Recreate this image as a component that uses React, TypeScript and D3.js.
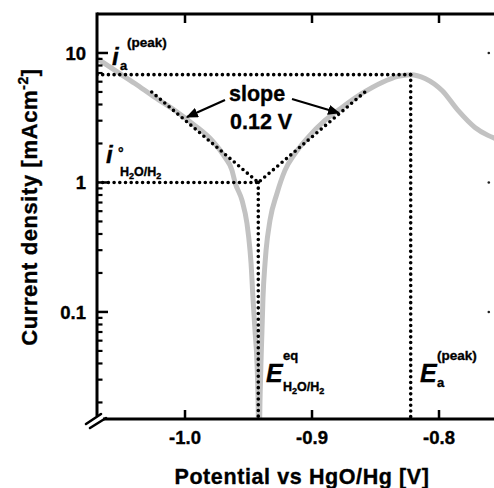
import React from "react";
import * as d3 from "d3";

// ---- data ----
const CURVE_E = [
  -1.0693, -1.0551, -1.0394, -1.0236, -1.0079, -0.9921, -0.9787, -0.9685, -0.963, -0.9606,
  -0.9551, -0.9512, -0.9488, -0.948, -0.9465, -0.9449, -0.9433, -0.9425, -0.9418, -0.9409,
  -0.9402, -0.9394, -0.9386, -0.937, -0.9362, -0.9331, -0.9276, -0.9213, -0.9134, -0.9031,
  -0.8898, -0.8764, -0.8606, -0.8449, -0.8323, -0.8223, -0.811, -0.7976, -0.785, -0.7717,
  -0.7614, -0.7559,
];
const CURVE_I = [
  9.07, 7.33, 5.81, 4.53, 3.6, 2.75, 2.11, 1.56, 1.24, 1.0,
  0.726, 0.482, 0.298, 0.237, 0.129, 0.072, 0.04, 0.0219, 0.008, 0.0219,
  0.04, 0.072, 0.129, 0.237, 0.298, 0.509, 0.822, 1.24, 1.67, 2.23,
  3.01, 3.8, 4.87, 5.92, 6.6, 6.8, 6.36, 5.13, 3.6, 2.66,
  2.31, 2.19,
];
const TAFEL_E = [-1.0262, -0.9423, -0.8583];
const TAFEL_I = [5.0, 1.0, 5.0];
const E_EQ = -0.9423;
const I_ZERO = 1.0;
const E_PEAK = -0.8223;
const I_PEAK = 6.8;
const X_TICKS = [-1.0, -0.9, -0.8];
const X_TICK_LABELS = ["-1.0", "-0.9", "-0.8"];
const Y_TICKS = [10, 1, 0.1];
const Y_TICK_LABELS = ["10", "1", "0.1"];
const X_DOMAIN = [-1.0693, -0.7567];
const Y_DOMAIN = [0.0149, 20];

const FONT = "'Liberation Sans', Arial, Helvetica, sans-serif";

export default function App() {
  const W = 494, H = 488;
  const left = 97, right = 494, top = 14, bottom = 419;
  const x = d3.scaleLinear().domain(X_DOMAIN).range([left, right]);
  const y = d3.scaleLog().domain(Y_DOMAIN).range([bottom, top]);

  const pts: [number, number][] = CURVE_E.map((e, k) => [e, CURVE_I[k]]);
  const line = d3
    .line<[number, number]>()
    .x((d) => x(d[0]))
    .y((d) => y(d[1]))
    .curve(d3.curveMonotoneX);
  const curvePath = line(pts) || "";

  const straight = d3
    .line<[number, number]>()
    .x((d) => x(d[0]))
    .y((d) => y(d[1]));
  const tafelPath = straight(TAFEL_E.map((e, k) => [e, TAFEL_I[k]] as [number, number])) || "";

  const dotted = {
    stroke: "#000",
    strokeWidth: 3.6,
    strokeDasharray: "0 5.7",
    strokeLinecap: "round" as const,
    fill: "none",
  };

  // minor log ticks
  const minor: number[] = [];
  [0.01, 0.1, 1, 10].forEach((dec) => {
    for (let m = 2; m <= 9; m++) {
      const v = dec * m;
      if (v > Y_DOMAIN[0] && v < Y_DOMAIN[1]) minor.push(v);
    }
  });

  const sub2 = (size: number) => (
    <>
      H<tspan fontSize={size * 0.72} dy={3}>2</tspan>
      <tspan dy={-3}>O/H</tspan>
      <tspan fontSize={size * 0.72} dy={3}>2</tspan>
    </>
  );

  const thick = { stroke: "#000", strokeWidth: 0.35 };

  return (
    <svg
      width={W}
      height={H}
      style={{ position: "absolute", left: 0, top: 0, background: "#fff" }}
      fontFamily={FONT}
    >
      <defs>
        <clipPath id="plot">
          <rect x={left} y={top} width={right - left} height={bottom - top} />
        </clipPath>
        <marker
          id="arr"
          viewBox="0 0 10 10"
          refX={9}
          refY={5}
          markerWidth={5.5}
          markerHeight={4.6}
          markerUnits="strokeWidth"
          orient="auto"
          preserveAspectRatio="none"
        >
          <path d="M0,0 L10,5 L0,10 z" fill="#000" />
        </marker>
      </defs>

      {/* gray curve */}
      <path
        d={curvePath}
        clipPath="url(#plot)"
        fill="none"
        stroke="#c2c2c2"
        strokeWidth={5}
        strokeLinejoin="round"
      />

      {/* dotted guides */}
      <g clipPath="url(#plot)">
        <line x1={x(X_DOMAIN[0])} y1={y(I_PEAK)} x2={x(E_PEAK)} y2={y(I_PEAK)} style={dotted} />
        <line x1={x(E_PEAK)} y1={y(I_PEAK)} x2={x(E_PEAK)} y2={y(Y_DOMAIN[0])} style={dotted} />
        <line x1={x(X_DOMAIN[0])} y1={y(I_ZERO)} x2={x(E_EQ)} y2={y(I_ZERO)} style={dotted} />
        <line x1={x(E_EQ)} y1={y(I_ZERO)} x2={x(E_EQ)} y2={y(Y_DOMAIN[0])} style={dotted} />
        <path d={tafelPath} style={dotted} />
      </g>

      {/* axes */}
      <g stroke="#000" strokeWidth={3} fill="none">
        <line x1={left} y1={top} x2={right + 2} y2={top} />
        <line x1={left} y1={top - 1.5} x2={left} y2={bottom - 3} />
        <line x1={left + 6} y1={bottom} x2={right + 2} y2={bottom} />
      </g>
      {/* axis break */}
      <g stroke="#000" strokeWidth={2.6} strokeLinecap="round">
        <line x1={86} y1={424} x2={101} y2={414} />
        <line x1={90} y1={428} x2={106} y2={418} />
      </g>

      {/* x ticks */}
      <g stroke="#000" strokeWidth={2.5}>
        {X_TICKS.map((t) => (
          <g key={t}>
            <line x1={x(t)} x2={x(t)} y1={bottom} y2={bottom - 9} />
            <line x1={x(t)} x2={x(t)} y1={top} y2={top + 9} />
          </g>
        ))}
      </g>
      {X_TICKS.map((t, k) => (
        <text
          key={t}
          x={x(t)}
          y={444}
          textAnchor="middle"
          fontSize={18.5}
          fontWeight="bold"
          {...thick}
        >
          {X_TICK_LABELS[k]}
        </text>
      ))}

      {/* y ticks */}
      <g stroke="#000" strokeWidth={2.5}>
        {Y_TICKS.map((t) => (
          <line key={t} x1={left} x2={left + 11} y1={y(t)} y2={y(t)} />
        ))}
        {minor.map((t) => (
          <line key={t} x1={left} x2={left + 5.5} y1={y(t)} y2={y(t)} strokeWidth={2.2} />
        ))}
      </g>
      {Y_TICKS.map((t) => (
        <circle key={"r" + t} cx={488.8} cy={y(t)} r={1.3} fill="#222" />
      ))}
      {Y_TICKS.map((t, k) => (
        <text
          key={t}
          x={86}
          y={y(t) + 6.8}
          textAnchor="end"
          fontSize={18.5}
          fontWeight="bold"
          {...thick}
        >
          {Y_TICK_LABELS[k]}
        </text>
      ))}

      {/* axis titles */}
      <text
        x={302}
        y={484}
        textAnchor="middle"
        fontSize={21.5}
        fontWeight="bold"
        letterSpacing={0.6}
        {...thick}
      >
        Potential vs HgO/Hg [V]
      </text>
      <text
        transform="rotate(-90)"
        x={-207}
        y={37}
        textAnchor="middle"
        fontSize={22}
        fontWeight="bold"
        letterSpacing={0.6}
        {...thick}
      >
        Current density [mAcm
        <tspan fontSize={14} dy={-9}>-2</tspan>
        <tspan dy={9}>]</tspan>
      </text>

      {/* annotations */}
      <g fontWeight="bold" fill="#000" {...thick}>
        {/* i_a^(peak) */}
        <text x={112} y={65} fontSize={24} fontStyle="italic">i</text>
        <text x={127} y={47} fontSize={13.5}>(peak)</text>
        <text x={120} y={70} fontSize={13}>a</text>

        {/* i° H2O/H2 */}
        <text x={106} y={163} fontSize={24} fontStyle="italic">i</text>
        <text x={118} y={158} fontSize={14}>°</text>
        <text x={120} y={176} fontSize={12.5}>{sub2(12.5)}</text>

        {/* slope text */}
        <text x={229} y={101} fontSize={21.5}>slope</text>
        <text x={230} y={129} fontSize={21.5}>0.12 V</text>

        {/* E_eq */}
        <text x={266} y={382} fontSize={25} fontStyle="italic">E</text>
        <text x={283} y={360} fontSize={13}>eq</text>
        <text x={283} y={391} fontSize={12.5}>{sub2(12.5)}</text>

        {/* E_a^(peak) */}
        <text x={420} y={382} fontSize={25} fontStyle="italic">E</text>
        <text x={437} y={360} fontSize={13.5}>(peak)</text>
        <text x={437} y={387} fontSize={13}>a</text>
      </g>

      {/* arrows */}
      <line x1={225} y1={100} x2={187} y2={117} stroke="#000" strokeWidth={2.2} markerEnd="url(#arr)" />
      <line x1={292} y1={99} x2={339} y2={113} stroke="#000" strokeWidth={2.2} markerEnd="url(#arr)" />
    </svg>
  );
}
